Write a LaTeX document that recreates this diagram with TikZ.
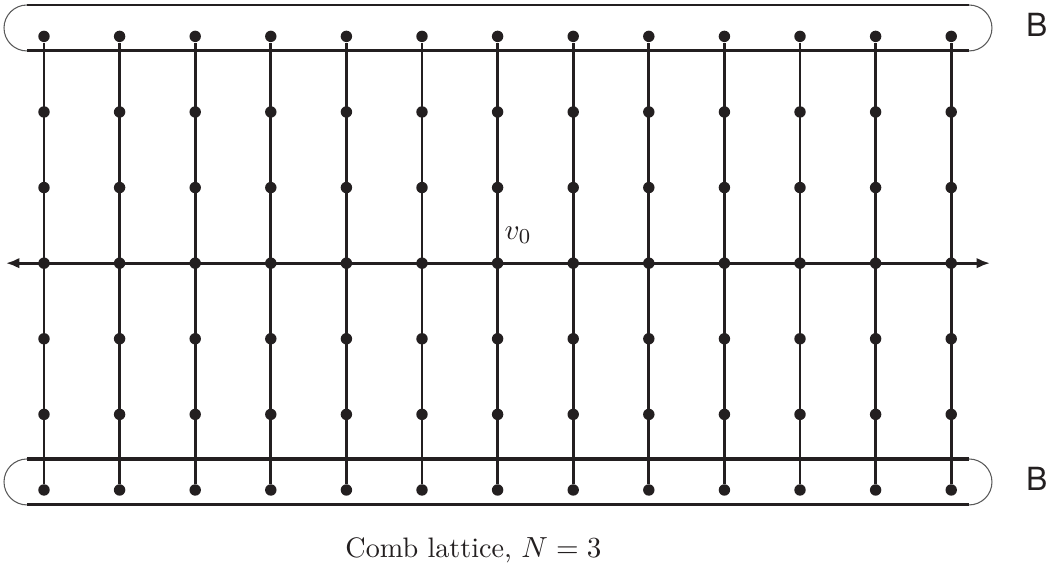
\documentclass[tikz,border=0pt]{standalone}
\usepackage{fontspec}
\usepackage{tikz}
\usetikzlibrary{positioning, arrows.meta, calc}
\usepackage{amsmath}
\usepackage{xcolor}
\newfontfamily\bfont{TeX Gyre Heros}
\definecolor{combblack}{HTML}{231F20}
\definecolor{combgray}{HTML}{5A5A5A}

\begin{document}
\begin{tikzpicture}[x=1cm, y=1cm,
    site/.style={circle, fill=combblack, inner sep=0pt, minimum size=4.3pt},
    tooth/.style={draw=combblack, line width=1.1pt},
    rim/.style={draw=combblack, line width=1.1pt},
    endarc/.style={draw=combgray, line width=0.4pt}]
    \useasboundingbox (-0.582,-1.111) rectangle (13.373,6.481);

    % lattice sites
    \foreach \i in {0,...,12}
      \foreach \j in {0,...,6}
        \node[site] (v-\i-\j) at (\i,\j) {};

    % teeth of the comb
    \foreach \i in {0,...,12}
      \draw[tooth] (v-\i-0) -- (v-\i-6);

    % backbone
    \coordinate (west) at (-0.503,3);
    \coordinate (east) at (12.513,3);
    \draw[tooth, {Latex[length=5pt,width=4pt]}-{Latex[length=5pt,width=4pt]}] (west) -- (east);

    % upper boundary set
    \draw[rim] (-0.225,6.415) -- (12.235,6.415);
    \draw[rim] (-0.225,5.807) -- (12.235,5.807);
    \draw[endarc] (-0.225,6.415) arc[start angle=90, end angle=270, radius=0.304];
    \draw[endarc] (12.235,6.415) arc[start angle=90, end angle=-90, radius=0.304];

    % lower boundary set
    \draw[rim, line width=1.4pt] (-0.225,0.410) -- (12.235,0.410);
    \draw[rim] (-0.225,-0.198) -- (12.235,-0.198);
    \draw[endarc] (-0.225,0.410) arc[start angle=90, end angle=270, radius=0.304];
    \draw[endarc] (12.235,0.410) arc[start angle=90, end angle=-90, radius=0.304];

    \node[font=\bfont\fontsize{12}{14}\selectfont, text=combblack] (btop) at (13.13,6.15) {B};
    \node[font=\bfont\fontsize{12}{14}\selectfont, text=combblack] (bbot) at (13.13,0.145) {B};

    \node[text=combblack, font=\fontsize{10.8}{13}\selectfont] (vzero) at (6.27,3.37) {$v_0$};

    \node[text=combblack, font=\fontsize{10.6}{13}\selectfont] (caption) at (5.68,-0.80) {Comb lattice, $N=3$};
  \end{tikzpicture}
\end{document}
